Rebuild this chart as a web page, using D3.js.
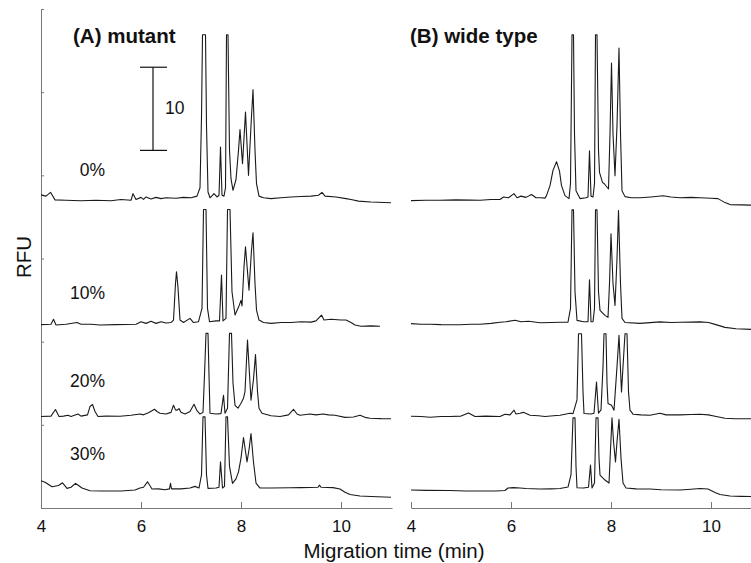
<!DOCTYPE html>
<html>
<head>
<meta charset="utf-8">
<title>Electropherograms</title>
<script src="https://d3js.org/d3.v7.min.js"></script>
<style>
  body { margin: 0; background: #fff; }
  svg text { font-family: "Liberation Sans", Arial, sans-serif; fill: #111; }
</style>
</head>
<body>
<div id="chart"></div>
<script>
// concentrations (one trace per row, top to bottom)
var percents = ["0%", "10%", "20%", "30%"];
// baseline offset of each trace on the RFU axis
var offsets = [37, 22, 11, 2];
var xTicks = [4, 6, 8, 10];
var yTicks = [0, 10, 20, 30, 40, 50, 60];
var scaleBar = [43, 53]; // 10 RFU bar

// (A) mutant traces: [time (min), RFU above baseline]
var mutant0 = [[4.00,0.65],[4.10,0.5],[4.19,0.96],[4.28,0.05],[4.5,0.0],[4.8,-0.05],[5.1,0.0],[5.4,-0.05],[5.6,0.1],[5.8,0.0],[5.84,0.8],[5.9,0.1],[6.0,0.35],[6.05,0.1],[6.1,0.4],[6.2,0.15],[6.3,0.35],[6.4,0.2],[6.5,0.3],[6.7,0.25],[6.85,0.35],[7.0,0.3],[7.12,0.5],[7.18,1.5],[7.21,10],[7.23,19.9],[7.29,19.9],[7.31,9],[7.34,1.0],[7.38,0.3],[7.46,0.8],[7.52,0.4],[7.56,0.6],[7.59,6.4],[7.62,0.6],[7.66,0.5],[7.69,1.5],[7.71,19.9],[7.74,19.9],[7.77,6],[7.80,2.6],[7.84,1.2],[7.90,2.5],[7.95,6],[7.98,8.5],[8.03,4.4],[8.09,10.6],[8.15,3.0],[8.20,9],[8.24,13.3],[8.28,6],[8.31,2],[8.36,0.5],[8.45,0.3],[8.6,0.2],[8.8,0.3],[9.0,0.4],[9.2,0.45],[9.4,0.5],[9.55,0.6],[9.62,0.95],[9.68,0.5],[9.9,0.4],[10.1,0.2],[10.2,0.1],[10.35,-0.1],[10.6,-0.2],[11.0,-0.3]];
var mutant10 = [[4.0,0.05],[4.2,0.1],[4.25,0.7],[4.3,0.0],[4.5,0.1],[4.72,0.3],[4.8,0.1],[5.0,0.1],[5.18,0.0],[5.5,0.05],[5.9,0.1],[6.0,0.4],[6.1,0.2],[6.2,0.45],[6.3,0.2],[6.4,0.4],[6.5,0.25],[6.6,0.3],[6.65,0.6],[6.69,5.0],[6.71,6.4],[6.74,4.5],[6.78,0.6],[6.85,0.3],[6.98,0.8],[7.05,0.3],[7.15,0.4],[7.22,2],[7.25,13.9],[7.30,13.9],[7.33,2],[7.37,0.4],[7.5,0.5],[7.57,0.5],[7.61,6.0],[7.64,0.5],[7.70,0.8],[7.73,13.9],[7.78,13.9],[7.82,4],[7.88,1.2],[7.96,2.3],[8.0,2.96],[8.02,2.3],[8.06,7],[8.09,9.4],[8.16,4.2],[8.21,9],[8.24,11.1],[8.28,5],[8.31,1.8],[8.36,0.6],[8.45,0.3],[8.6,0.2],[8.8,0.3],[9.0,0.3],[9.2,0.4],[9.4,0.35],[9.5,0.5],[9.61,1.2],[9.66,0.6],[9.8,0.7],[10.0,0.6],[10.1,0.6],[10.2,0.3],[10.28,0.0],[10.4,-0.15],[10.6,-0.1],[10.78,-0.15]];
var mutant20 = [[4.0,0.0],[4.2,0.05],[4.29,0.84],[4.36,0.0],[4.45,0.05],[4.54,0.15],[4.6,0.0],[4.74,0.3],[4.8,0.05],[4.93,0.2],[4.98,1.2],[5.03,1.44],[5.08,0.6],[5.14,0.0],[5.3,0.05],[5.58,0.04],[5.8,0.15],[5.98,0.3],[6.05,0.2],[6.15,0.45],[6.27,0.87],[6.32,0.6],[6.38,0.4],[6.5,0.3],[6.6,0.5],[6.65,1.35],[6.69,0.8],[6.72,0.75],[6.76,0.95],[6.8,0.5],[6.88,0.3],[6.98,0.6],[7.06,1.48],[7.12,0.7],[7.18,0.3],[7.24,0.5],[7.27,5],[7.30,10],[7.34,10],[7.36,5],[7.38,0.4],[7.5,0.3],[7.6,0.35],[7.65,2.56],[7.68,0.4],[7.73,1],[7.77,10],[7.81,10],[7.84,4],[7.88,1.35],[7.94,1.0],[8.0,1.6],[8.05,2.2],[8.08,3],[8.13,9.2],[8.20,1.96],[8.25,4.5],[8.29,7.44],[8.33,3],[8.36,1.0],[8.42,0.4],[8.6,0.1],[8.78,0.0],[8.95,0.2],[9.05,0.87],[9.12,0.3],[9.18,0.15],[9.38,0.3],[9.5,0.2],[9.64,0.3],[9.75,0.2],[9.88,0.15],[10.08,-0.1],[10.25,-0.05],[10.38,0.15],[10.48,-0.1],[10.58,-0.2],[10.8,-0.25],[11.0,-0.26]];
var mutant30 = [[4.0,1.27],[4.08,1.1],[4.22,0.55],[4.35,0.7],[4.43,1.03],[4.52,0.36],[4.6,0.5],[4.69,0.96],[4.75,0.7],[4.82,0.4],[4.98,0.07],[5.2,0.05],[5.38,0.04],[5.6,0.05],[5.88,0.16],[5.98,0.4],[6.05,0.5],[6.13,1.15],[6.22,0.28],[6.35,0.3],[6.48,0.2],[6.57,0.3],[6.59,0.96],[6.61,0.3],[6.8,0.3],[6.98,0.4],[7.08,0.6],[7.16,0.4],[7.21,2],[7.24,8.96],[7.28,8.96],[7.31,2],[7.34,0.36],[7.5,0.4],[7.56,0.5],[7.59,3.55],[7.63,0.4],[7.67,0.6],[7.70,8.96],[7.73,8.96],[7.77,3],[7.83,0.96],[7.90,1.5],[7.95,2.34],[8.0,4],[8.05,6.48],[8.12,3.55],[8.16,5],[8.20,6.96],[8.25,3.5],[8.30,1.0],[8.38,0.4],[8.6,0.4],[8.98,0.43],[9.2,0.45],[9.54,0.5],[9.57,0.75],[9.6,0.5],[9.84,0.45],[9.98,0.28],[10.08,-0.1],[10.18,-0.38],[10.38,-0.56],[10.6,-0.62],[11.0,-0.7]];

// (B) wide type traces
var wild0 = [[4.0,-0.04],[4.3,0.0],[4.58,0.0],[4.9,0.05],[5.18,0.02],[5.38,0.0],[5.6,0.1],[5.78,0.1],[5.85,0.4],[5.95,0.3],[6.06,0.8],[6.12,0.3],[6.2,0.5],[6.3,0.35],[6.41,0.7],[6.5,0.3],[6.6,0.3],[6.68,0.26],[6.71,0.56],[6.78,1.76],[6.84,3.6],[6.91,4.64],[6.97,3.5],[7.01,1.76],[7.08,0.56],[7.16,0.2],[7.19,2],[7.22,19.9],[7.25,19.9],[7.27,8],[7.30,1.16],[7.38,0.2],[7.50,0.3],[7.54,0.4],[7.57,5.96],[7.60,0.5],[7.64,0.4],[7.67,2],[7.69,19.9],[7.72,19.9],[7.75,6],[7.77,3.36],[7.83,2.16],[7.87,1.96],[7.95,1.36],[7.98,8],[8.01,16.5],[8.04,8],[8.08,2.96],[8.12,9],[8.16,18.3],[8.19,8],[8.22,1.16],[8.28,0.44],[8.4,0.3],[8.58,0.3],[8.8,0.4],[9.04,0.54],[9.2,0.4],[9.38,0.3],[9.6,0.35],[9.78,0.3],[10.0,0.25],[10.14,0.2],[10.28,-0.28],[10.38,-0.52],[10.6,-0.55],[10.8,-0.58]];
var wild10 = [[4.0,0.17],[4.2,0.1],[4.38,0.1],[4.6,0.05],[4.98,0.03],[5.2,0.1],[5.38,0.1],[5.6,0.2],[5.78,0.33],[5.9,0.4],[6.08,0.57],[6.2,0.4],[6.35,0.45],[6.58,0.27],[6.8,0.3],[6.98,0.33],[7.14,0.35],[7.19,2],[7.22,13.85],[7.25,13.85],[7.28,4],[7.32,0.56],[7.45,0.4],[7.54,0.4],[7.57,5.45],[7.60,0.4],[7.64,0.4],[7.67,2],[7.69,13.85],[7.72,13.85],[7.75,4],[7.78,1.76],[7.88,1.16],[7.94,0.92],[7.97,5],[8.0,10.97],[8.04,5],[8.08,2.36],[8.12,8],[8.15,13.77],[8.19,5],[8.22,0.8],[8.28,0.3],[8.58,0.2],[8.98,0.38],[9.2,0.3],[9.38,0.33],[9.6,0.35],[9.78,0.38],[9.95,0.3],[10.08,0.08],[10.28,-0.28],[10.5,-0.45],[10.8,-0.52]];
var wild20 = [[4.0,0.04],[4.2,0.0],[4.38,-0.08],[4.6,0.0],[4.78,0.0],[5.0,0.05],[5.15,0.43],[5.28,0.0],[5.5,0.05],[5.78,0.0],[5.88,0.28],[5.98,0.2],[6.06,0.76],[6.1,0.3],[6.18,0.4],[6.25,0.5],[6.38,0.16],[6.55,0.1],[6.68,0.0],[6.85,0.1],[6.98,0.16],[7.18,0.4],[7.24,0.35],[7.32,2],[7.35,9.96],[7.41,9.96],[7.44,3],[7.46,0.36],[7.6,0.3],[7.66,0.4],[7.71,4.15],[7.75,0.4],[7.80,0.8],[7.84,6],[7.86,9.96],[7.90,9.96],[7.92,4],[7.94,1.56],[8.01,1.36],[8.06,0.76],[8.12,6],[8.16,9.76],[8.21,2.96],[8.26,8],[8.28,9.96],[8.32,9.96],[8.35,3],[8.38,0.76],[8.44,0.28],[8.6,0.2],[8.78,0.16],[8.98,0.4],[9.1,0.2],[9.38,0.2],[9.6,0.25],[9.78,0.28],[9.95,0.2],[10.08,0.04],[10.28,-0.2],[10.48,-0.26],[10.8,-0.26]];
var wild30 = [[4.0,0.16],[4.3,0.12],[4.78,0.1],[5.1,0.05],[5.38,0.04],[5.7,0.05],[5.88,0.1],[5.94,0.4],[6.05,0.45],[6.18,0.4],[6.3,0.35],[6.58,0.28],[6.8,0.3],[6.98,0.34],[7.14,0.52],[7.20,2],[7.24,8.84],[7.28,8.84],[7.30,3],[7.32,0.43],[7.45,0.4],[7.55,0.5],[7.59,3.16],[7.62,0.4],[7.67,1],[7.70,8.84],[7.74,8.84],[7.76,4],[7.78,1.96],[7.88,1.36],[7.96,1.0],[7.99,5],[8.02,8.84],[8.05,6],[8.09,3.55],[8.12,6],[8.16,8.68],[8.20,4],[8.24,1.0],[8.30,0.4],[8.5,0.3],[8.78,0.28],[9.0,0.2],[9.38,0.16],[9.6,0.25],[9.78,0.34],[9.94,0.28],[10.08,-0.14],[10.18,-0.38],[10.38,-0.56],[10.6,-0.6],[10.8,-0.62]];

var mutantTraces = [mutant0, mutant10, mutant20, mutant30];
var wildTraces = [wild0, wild10, wild20, wild30];

var width = 751, height = 563;

var svg = d3.select("#chart").append("svg")
    .attr("width", width)
    .attr("height", height);

svg.append("rect").attr("width", width).attr("height", height).attr("fill", "#fff");

var y = d3.scaleLinear().domain([0, 60]).range([508, 9]);
var xA = d3.scaleLinear().domain([4, 11.02]).range([41, 392]);
var xB = d3.scaleLinear().domain([4, 10.8]).range([411, 751]);

function drawPanel(x, traces, title, titleX, withY) {
    var g = svg.append("g");

    var ax = g.append("g")
        .attr("transform", "translate(0,508)")
        .call(d3.axisBottom(x).tickValues(xTicks).tickFormat(d3.format("d"))
            .tickSize(-6).tickSizeOuter(0).tickPadding(12));
    ax.selectAll("path, line").attr("stroke", "#777");
    ax.selectAll("text").attr("font-size", 17).attr("font-family", "Liberation Sans, Arial, sans-serif").attr("fill", "#111");

    if (withY) {
        var ay = g.append("g")
            .attr("transform", "translate(41,0)")
            .call(d3.axisLeft(y).tickValues(yTicks).tickSize(-3).tickSizeOuter(0).tickFormat(""));
        ay.selectAll("path, line").attr("stroke", "#777");
    }

    var line = d3.line()
        .x(function(d) { return x(d[0]); });

    traces.forEach(function(tr, i) {
        line.y(function(d) { return y(d[1] + offsets[i]); });
        g.append("path")
            .datum(tr)
            .attr("fill", "none")
            .attr("stroke", "#1a1a1a")
            .attr("stroke-width", 1.1)
            .attr("stroke-linejoin", "round")
            .attr("d", line);
    });

    g.append("text")
        .attr("x", titleX)
        .attr("y", 43)
        .attr("font-size", 20.5)
        .attr("font-weight", "bold")
        .text(title);
}

drawPanel(xA, mutantTraces, "(A) mutant", 73, true);
drawPanel(xB, wildTraces, "(B) wide type", 410, false);

// percentage labels on panel A
var labelY = [176, 299, 387, 460];
percents.forEach(function(p, i) {
    svg.append("text")
        .attr("x", 105)
        .attr("y", labelY[i])
        .attr("text-anchor", "end")
        .attr("font-size", 17.5)
        .text(p);
});

// 10 RFU scale bar
var sb = svg.append("g").attr("stroke", "#111").attr("stroke-width", 1.2);
sb.append("line").attr("x1", 153).attr("x2", 153).attr("y1", y(scaleBar[0])).attr("y2", y(scaleBar[1]));
sb.append("line").attr("x1", 140).attr("x2", 167).attr("y1", y(scaleBar[0])).attr("y2", y(scaleBar[0]));
sb.append("line").attr("x1", 140).attr("x2", 167).attr("y1", y(scaleBar[1])).attr("y2", y(scaleBar[1]));
svg.append("text")
    .attr("x", 165)
    .attr("y", 114)
    .attr("font-size", 17.5)
    .text("10");

// axis titles
svg.append("text")
    .attr("transform", "translate(31,257) rotate(-90)")
    .attr("text-anchor", "middle")
    .attr("font-size", 20.5)
    .text("RFU");

svg.append("text")
    .attr("x", 394)
    .attr("y", 558)
    .attr("text-anchor", "middle")
    .attr("font-size", 20.5)
    .text("Migration time (min)");
</script>
</body>
</html>
